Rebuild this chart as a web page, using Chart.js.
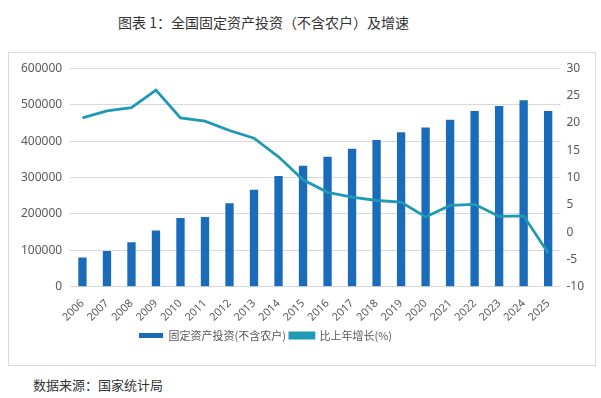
<!DOCTYPE html>
<html>
<head>
<meta charset="utf-8">
<script src="https://cdn.jsdelivr.net/npm/chart.js@4.4.0/dist/chart.umd.min.js"></script>
<style>
  body { margin: 0; background: #fff; font-family: "Noto Sans CJK SC", "Noto Sans", sans-serif; }
  #title { position: absolute; left: 118px; top: 12px; font-size: 14px; color: #333; white-space: nowrap; }
  #box { position: absolute; left: 8px; top: 52px; width: 586px; height: 312px; border: 1px solid #d9d9d9; }
  #source { position: absolute; left: 33px; top: 375px; font-size: 13px; color: #333; }
</style>
</head>
<body>
<div id="title">图表 1：全国固定资产投资（不含农户）及增速</div>
<div id="box"><canvas id="myChart" width="586" height="312"></canvas></div>
<div id="source">数据来源：国家统计局</div>
<script>
var years = ["2006","2007","2008","2009","2010","2011","2012","2013","2014","2015",
    "2016","2017","2018","2019","2020","2021","2022","2023","2024","2025"];
// 固定资产投资（不含农户），亿元
var investment = [80800, 98700, 122700, 154700, 189300, 192000, 229300, 266700, 304000, 332500,
    357300, 378700, 402700, 424000, 437400, 458700, 482700, 496000, 512000, 482700];
// 比上年增长（%）
var growth = [20.9, 22.2, 22.8, 26.0, 20.9, 20.3, 18.6, 17.2, 13.8, 9.6,
    7.3, 6.4, 5.8, 5.5, 2.8, 4.9, 5.1, 2.9, 3.0, -3.8];

var textColor = "#595959";

// legend sits left of centre in the original
var shiftLegend = {
    id: "shiftLegend",
    afterLayout: function (chart) {
        chart.legend.left -= 36;
        chart.legend.right -= 36;
    }
};

new Chart("myChart", {
    data: {
        labels: years,
        datasets: [{
            type: "line",
            label: "比上年增长(%)",
            data: growth,
            yAxisID: "y2",
            borderColor: "#1f99b6",
            backgroundColor: "#1f99b6",
            borderWidth: 2.8,
            pointRadius: 0,
            tension: 0,
            order: 0
        }, {
            type: "bar",
            label: "固定资产投资(不含农户)",
            data: investment,
            yAxisID: "y",
            backgroundColor: "#1b6bbb",
            barPercentage: 0.34,
            categoryPercentage: 1,
            order: 1
        }]
    },
    plugins: [shiftLegend],
    options: {
        responsive: false,
        animation: false,
        layout: {padding: {left: 4, right: 5, top: 8, bottom: 14}},
        plugins: {
            legend: {
                position: "bottom",
                reverse: true,
                labels: {
                    color: textColor,
                    boxWidth: 24,
                    boxHeight: 5,
                    padding: 4,
                    font: {size: 11, family: "Noto Sans CJK SC"}
                }
            },
            tooltip: {enabled: false}
        },
        scales: {
            x: {
                grid: {display: false},
                border: {display: false},
                ticks: {
                    color: textColor,
                    autoSkip: false,
                    maxRotation: 45,
                    minRotation: 45,
                    padding: 2,
                    font: {size: 11, family: "Noto Sans"}
                }
            },
            y: {
                position: "left",
                min: 0,
                max: 600000,
                grid: {color: "#d9d9d9", drawTicks: false},
                border: {display: false},
                ticks: {
                    stepSize: 100000,
                    color: textColor,
                    padding: 8,
                    font: {size: 12, family: "Noto Sans"},
                    callback: function (v) { return String(v); }
                }
            },
            y2: {
                position: "right",
                min: -10,
                max: 30,
                grid: {display: false, drawTicks: false},
                border: {display: false},
                ticks: {
                    stepSize: 5,
                    color: textColor,
                    padding: 6,
                    font: {size: 12, family: "Noto Sans"}
                }
            }
        }
    }
});
</script>
</body>
</html>
